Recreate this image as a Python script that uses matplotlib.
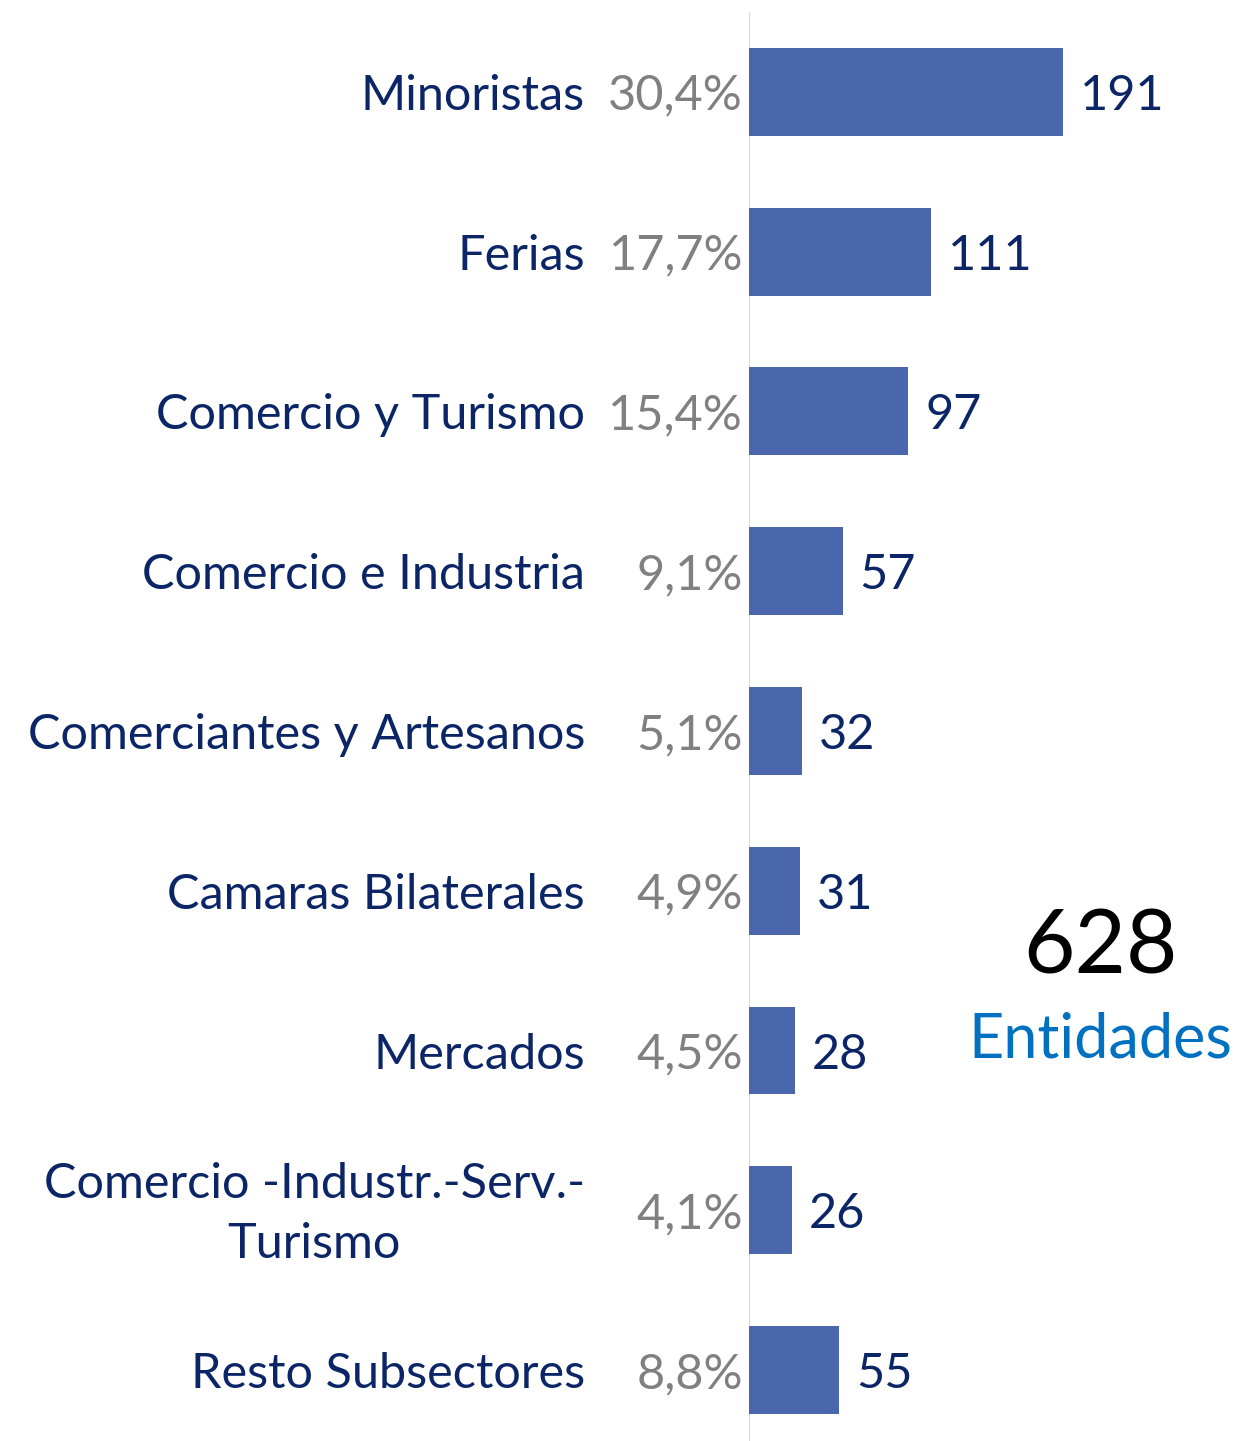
import matplotlib.pyplot as plt

# data
categories = ["Minoristas", "Ferias", "Comercio y Turismo", "Comercio e Industria",
              "Comerciantes y Artesanos", "Camaras Bilaterales", "Mercados",
              "Comercio -Industr.-Serv.-\nTurismo", "Resto Subsectores"]
counts = [191, 111, 97, 57, 32, 31, 28, 26, 55]
shares = ["30,4%", "17,7%", "15,4%", "9,1%", "5,1%", "4,9%", "4,5%", "4,1%", "8,8%"]
total = 628
total_label = "Entidades"

barColor = "#4A66AC"
navy = "#0B2566"
gray = "#808080"

plt.rcParams['font.family'] = ['Lato', 'DejaVu Sans']

fig = plt.figure(figsize=(12.42, 14.41), dpi=100)
# axis spans from the zero line to the right edge
ax = fig.add_axes([749 / 1242, 0, 1 - 749 / 1242, 1 - 12 / 1441])

ypos = list(range(len(categories)))
ax.barh(ypos, counts, height=0.55, color=barColor)
ax.set_xlim(0, 300)
ax.set_ylim(8.444, -0.5)
ax.axis("off")
ax.axvline(0, color="#D9D9D9", lw=1.6, zorder=0)

px = 72 / 100  # pixels -> points
dy = -4 * px
for i in ypos:
    ax.annotate(categories[i], xy=(0, i), xytext=(-164 * px, dy), textcoords="offset points",
                ha="right", va="center", multialignment="center", color=navy, fontsize=35,
                linespacing=1.45)
    ax.annotate(shares[i], xy=(0, i), xytext=(-6 * px, dy), textcoords="offset points",
                ha="right", va="center", color=gray, fontsize=35)
    ax.annotate(str(counts[i]), xy=(counts[i], i), xytext=(17 * px, dy), textcoords="offset points",
                ha="left", va="center", color=navy, fontsize=35)

fig.text(1101 / 1242, 1 - 948 / 1441, str(total), ha="center", va="center",
         fontsize=64, color="black")
fig.text(1100 / 1242, 1 - 1040 / 1441, total_label, ha="center", va="center",
         fontsize=44, color="#0070C0")

fig.savefig("out.png", dpi=100)
